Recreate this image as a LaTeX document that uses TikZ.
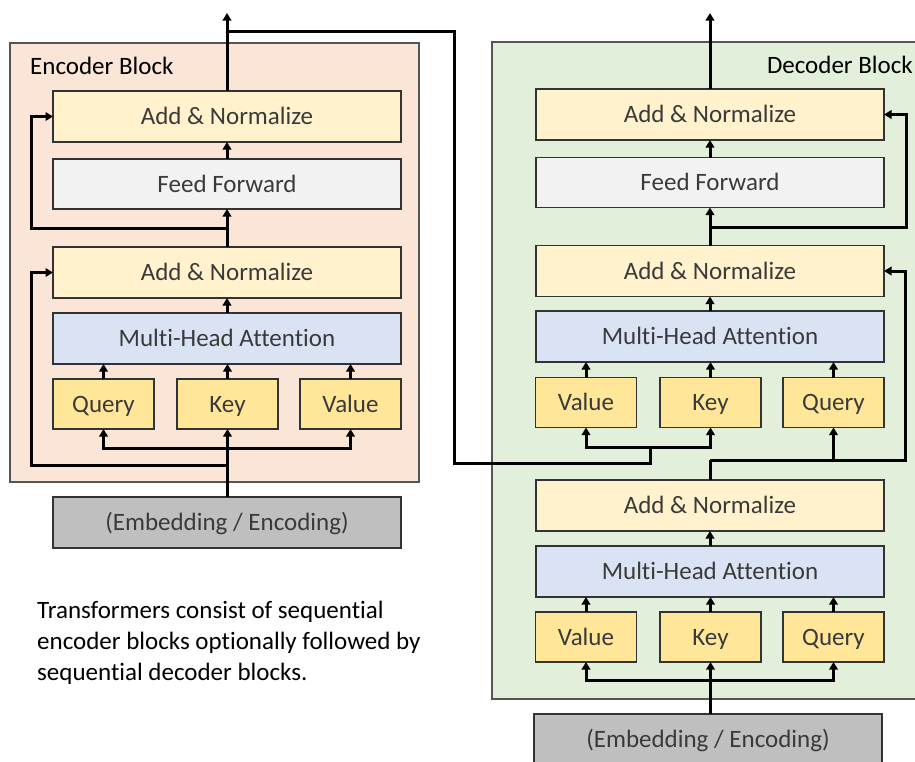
\documentclass[tikz,border=0pt]{standalone}
\usepackage{fontspec}
\setmainfont{Carlito}[Ligatures=NoCommon]
\usetikzlibrary{arrows.meta,calc}
\definecolor{encbg}{HTML}{FBE5D6}
\definecolor{decbg}{HTML}{E2EFDA}
\definecolor{anfill}{HTML}{FFF2CC}
\definecolor{fffill}{HTML}{F2F2F2}
\definecolor{mhafill}{HTML}{DAE3F3}
\definecolor{qkvfill}{HTML}{FFE699}
\definecolor{embfill}{HTML}{BFBFBF}
\definecolor{txtgray}{HTML}{3A3A3A}
\definecolor{edgegray}{HTML}{333333}
\definecolor{blockedge}{HTML}{555555}
\begin{document}
\begin{tikzpicture}[x=1pt,y=-1pt,
  box/.style={draw=edgegray, line width=1.5pt, minimum height=51pt, inner sep=0pt, outer sep=0pt,
    text=txtgray, font=\fontsize{25}{30}\selectfont, text height=16pt, text depth=0pt},
  widebox/.style={box, minimum width=348pt},
  anbox/.style={widebox, fill=anfill},
  ffbox/.style={widebox, fill=fffill, minimum height=50pt},
  mhabox/.style={widebox, fill=mhafill},
  embbox/.style={widebox, fill=embfill},
  qkvbox/.style={box, fill=qkvfill, minimum width=101pt, minimum height=50pt},
  wire/.style={line width=3pt, draw=black},
  arr/.style={wire, -{Triangle[length=7.5pt,width=8.5pt]}},
  blockbox/.style={draw=blockedge, line width=1.4pt},
  title/.style={font=\fontsize{25}{30}\selectfont, text=black, inner sep=0pt, text height=16pt, text depth=0pt},
  captext/.style={font=\fontsize{25}{30}\selectfont, text=black, inner sep=0pt, anchor=base west}]

\clip (0,0) rectangle (915,761);
\fill[white] (0,0) rectangle (915,761);

% blocks
\draw[blockbox, fill=encbg] (10,43) rectangle (419,482);
\draw[blockbox, fill=decbg] (492,42) rectangle (940,699);
\node[title, anchor=west] (etitle) at (30,66) {Encoder Block};
\node[title, anchor=east] (dtitle) at (913,65) {Decoder Block};

% encoder
\node[anbox] (eAN1) at (227,116.5) {Add \& Normalize};
\node[ffbox] (eFF) at (227,184) {Feed Forward};
\node[anbox] (eAN2) at (227,272.5) {Add \& Normalize};
\node[mhabox] (eMHA) at (227,338.5) {Multi-Head Attention};
\node[qkvbox] (eQ) at (103.5,404) {Query};
\node[qkvbox] (eK) at (227.5,404) {Key};
\node[qkvbox] (eV) at (350.5,404) {Value};
\node[embbox] (eEmb) at (227,522.5) {(Embedding / Encoding)};

% decoder
\node[anbox] (dAN1) at (710,114.5) {Add \& Normalize};
\node[ffbox] (dFF) at (710,182.5) {Feed Forward};
\node[anbox] (dAN2) at (710,271) {Add \& Normalize};
\node[mhabox] (dMHA) at (710,336.5) {Multi-Head Attention};
\node[qkvbox] (dV) at (586,402.5) {Value};
\node[qkvbox] (dK) at (710.5,402.5) {Key};
\node[qkvbox] (dQ) at (833.5,402.5) {Query};
\node[anbox] (dAN3) at (710,505.5) {Add \& Normalize};
\node[mhabox] (dMHA3) at (710,571.5) {Multi-Head Attention};
\node[qkvbox] (dV3) at (586,637) {Value};
\node[qkvbox] (dK3) at (710.5,637) {Key};
\node[qkvbox] (dQ3) at (833.5,637) {Query};
\node[embbox] (dEmb) at (708,739.5) {(Embedding / Encoding)};

% caption
\node[captext] (cap1) at (37,618) {Transformers consist of sequential};
\node[captext] (cap2) at (37,649) {encoder blocks optionally followed by};
\node[captext] (cap3) at (37,680) {sequential decoder blocks.};

% coordinates
\coordinate (eSplit) at (227.5,448);
\coordinate (eRes1) at (227.5,465);
\coordinate (eRes2) at (227,228);
\coordinate (eOut) at (227,13);
\coordinate (eCross) at (227,31);
\coordinate (cross1) at (454,31);
\coordinate (cross2) at (454,463);
\coordinate (cross3) at (650,463);
\coordinate (dSplit) at (650,447);
\coordinate (dSplit3) at (710.5,680);
\coordinate (dRes1) at (710,460);
\coordinate (dRes2) at (710,227);
\coordinate (dOut) at (710,13);

% encoder connectors
\draw[arr] (eK.south |- eEmb.north) -- (eK.south);
\draw[arr] (eSplit) -| (eQ.south);
\draw[arr] (eSplit) -| (eV.south);
\draw[arr] (eRes1) -| ([xshift=-22pt]eAN2.west) -- (eAN2.west);
\draw[arr] (eQ.north) -- (eQ.north |- eMHA.south);
\draw[arr] (eK.north) -- (eK.north |- eMHA.south);
\draw[arr] (eV.north) -- (eV.north |- eMHA.south);
\draw[arr] (eMHA.north) -- (eAN2.south);
\draw[arr] (eAN2.north) -- (eFF.south);
\draw[arr] (eRes2) -| ([xshift=-22pt]eAN1.west) -- (eAN1.west);
\draw[arr] (eFF.north) -- (eAN1.south);
\draw[arr] (eAN1.north) -- (eOut);
\draw[wire] (eCross) -- (cross1) -- (cross2) -- (cross3) -- (dSplit);
\draw[arr] (dSplit) -| (dV.south);
\draw[arr] (dSplit) -| (dK.south);

% decoder connectors
\draw[arr] (dK3.south |- dEmb.north) -- (dK3.south);
\draw[arr] (dSplit3) -| (dV3.south);
\draw[arr] (dSplit3) -| (dQ3.south);
\draw[arr] (dV3.north) -- (dV3.north |- dMHA3.south);
\draw[arr] (dK3.north) -- (dK3.north |- dMHA3.south);
\draw[arr] (dQ3.north) -- (dQ3.north |- dMHA3.south);
\draw[arr] (dMHA3.north) -- (dAN3.south);
\draw[wire] (dAN3.north) -- (dRes1);
\draw[arr] (dRes1) -| ([xshift=21pt]dAN2.east) -- (dAN2.east);
\draw[arr] (dQ.south |- dRes1) -- (dQ.south);
\draw[arr] (dV.north) -- (dV.north |- dMHA.south);
\draw[arr] (dK.north) -- (dK.north |- dMHA.south);
\draw[arr] (dQ.north) -- (dQ.north |- dMHA.south);
\draw[arr] (dMHA.north) -- (dAN2.south);
\draw[arr] (dAN2.north) -- (dFF.south);
\draw[arr] (dRes2) -| ([xshift=22pt]dAN1.east) -- (dAN1.east);
\draw[arr] (dFF.north) -- (dAN1.south);
\draw[arr] (dAN1.north) -- (dOut);
\end{tikzpicture}
\end{document}
